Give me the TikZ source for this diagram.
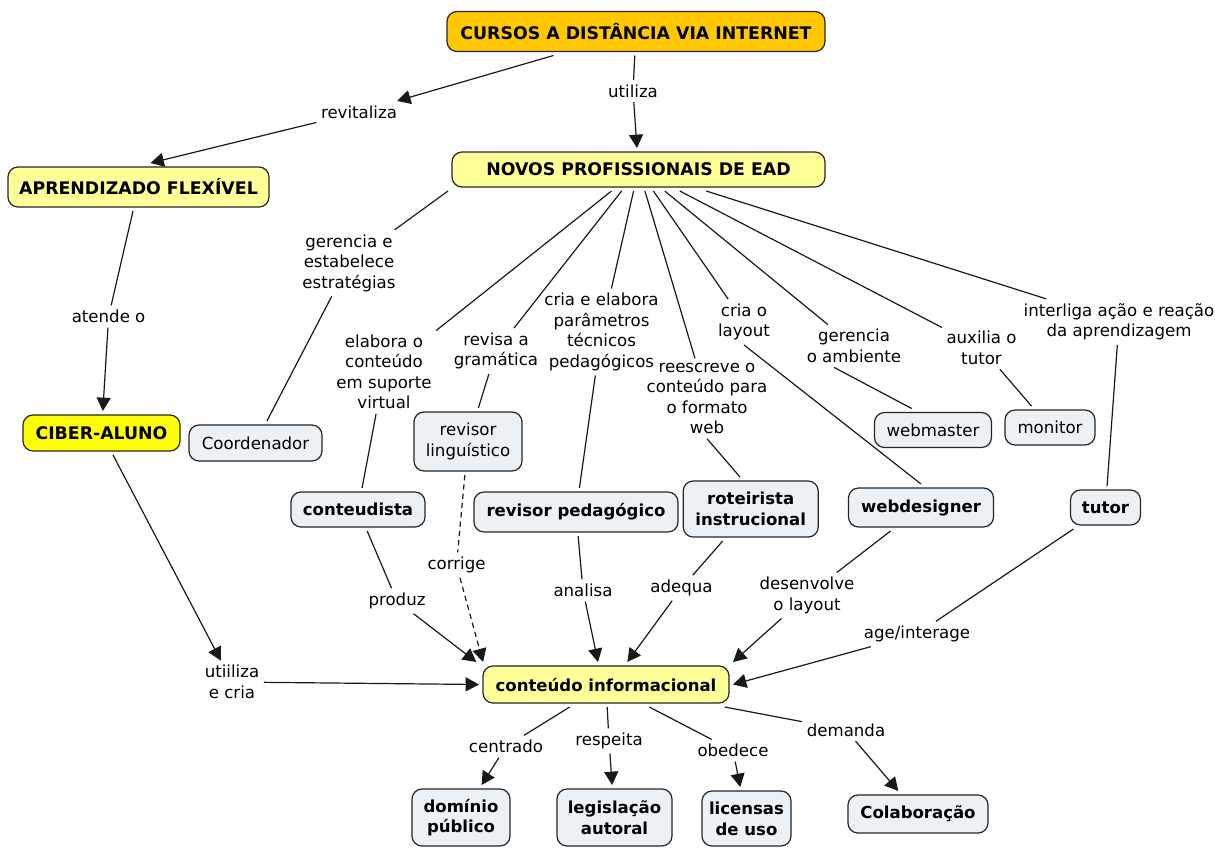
\documentclass[tikz,border=0pt]{standalone}
\usepackage{fontspec}
\setmainfont{DejaVu Sans}
\usetikzlibrary{arrows.meta,calc}
\definecolor{cgold}{HTML}{FFC800}
\definecolor{clyel}{HTML}{FFFF99}
\definecolor{cbyel}{HTML}{FFFF00}
\definecolor{cblue}{HTML}{EBF1F4}
\begin{document}
\begin{tikzpicture}[x=0.75pt,y=-0.75pt,
  base/.style={draw=black!85, line width=0.9pt, rounded corners=7.5pt, inner sep=0pt, outer sep=3pt, align=center, text=black},
  sz/.style 2 args={minimum width=#1*0.75pt, minimum height=#2*0.75pt},
  bigc/.style={base, font=\fontsize{13}{16.5}\selectfont\bfseries},
  bc/.style={base, fill=cblue, font=\fontsize{12.4}{15.6}\selectfont\bfseries},
  nc/.style={base, fill=cblue, font=\fontsize{12.45}{15.6}\selectfont},
  lab/.style={inner sep=2pt, outer sep=1.5pt, align=center, text=black, font=\fontsize{12.45}{15.4}\selectfont},
  conn/.style={line width=0.9pt, draw=black!90},
  arr/.style={conn, -{Triangle[length=10pt,width=10.5pt]}},
  dsh/.style={dash pattern=on 4pt off 3pt},
]
\useasboundingbox (0,0) rectangle (1215,847);
\fill[white] (0,0) rectangle (1215,847);

% concepts
\node[bigc, fill=cgold, sz={378}{40}] (cursos) at (636,31.5) {CURSOS A DISTÂNCIA VIA INTERNET};
\node[bigc, fill=clyel, sz={373}{35}] (novos) at (638.5,169.5) {NOVOS PROFISSIONAIS DE EAD};
\node[bigc, fill=clyel, sz={261}{40}] (aprend) at (138.5,187) {APRENDIZADO FLEXÍVEL};
\node[bigc, fill=cbyel, sz={157}{36}] (ciber) at (101.5,433) {CIBER-ALUNO};
\node[nc, sz={133}{36}] (coord) at (255.5,443) {Coordenador};
\node[nc, sz={108}{59}] (revling) at (468,441.5) {revisor\\linguístico};
\node[bc, sz={134}{35}] (contd) at (358,509.5) {conteudista};
\node[bc, sz={204}{40}] (revped) at (576,512) {revisor pedagógico};
\node[bc, sz={135}{56}] (rotei) at (750.7,509) {roteirista\\instrucional};
\node[bc, sz={145}{39}] (webdes) at (921,507.5) {webdesigner};
\node[nc, sz={117}{35}] (webmaster) at (933,430) {webmaster};
\node[nc, sz={90}{35}] (monitor) at (1050,427.5) {monitor};
\node[bc, sz={70}{35}] (tutor) at (1105.5,507.5) {tutor};
\node[bc, fill=clyel, sz={246}{37}] (conteudo) at (606,684.5) {conteúdo informacional};
\node[bc, sz={98}{57}] (dominio) at (461,817.5) {domínio\\público};
\node[bc, sz={115}{57}] (legis) at (614.5,817.5) {legislação\\autoral};
\node[bc, sz={89}{55}] (licen) at (746.5,818.5) {licensas\\de uso};
\node[bc, sz={140}{38}] (colab) at (918,814) {Colaboração};

% linking phrases
\node[lab] (revit) at (359,112) {revitaliza};
\node[lab] (utiliza) at (633,91) {utiliza};
\node[lab] (atende) at (108.6,316.5) {atende o};
\node[lab] (ger) at (349,263) {gerencia e\\estabelece\\estratégias};
\node[lab] (elab) at (384,372) {elabora o\\conteúdo\\em suporte\\virtual};
\node[lab] (revisa) at (496,351) {revisa a\\gramática};
\node[lab] (criaelab) at (601.5,332) {cria e elabora\\parâmetros\\técnicos\\pedagógicos};
\node[lab] (reesc) at (707,398.5) {reescreve o\\conteúdo para\\o formato\\web};
\node[lab] (criao) at (744,322) {cria o\\layout};
\node[lab] (gam) at (854,346) {gerencia\\o ambiente};
\node[lab] (aux) at (981.5,348) {auxilia o\\tutor};
\node[lab] (interl) at (1119,322) {interliga ação e reação\\da aprendizagem};
\node[lab] (corrige) at (456.5,565) {corrige};
\node[lab] (produz) at (397,601) {produz};
\node[lab] (analisa) at (583,590.5) {analisa};
\node[lab] (adequa) at (681.5,588) {adequa};
\node[lab] (desenv) at (807,595.5) {desenvolve\\o layout};
\node[lab] (age) at (917,634) {age/interage};
\node[lab] (utcria) at (232,682) {utiiliza\\e cria};
\node[lab] (centrado) at (506,746.5) {centrado};
\node[lab] (respeita) at (609,741) {respeita};
\node[lab] (obedece) at (733,750.5) {obedece};
\node[lab] (demanda) at (846,730) {demanda};

% connectors
\draw[arr] (cursos) -- (revit);
\draw[arr] (revit) -- ([xshift=9pt]aprend.north);
\draw[conn] (cursos) -- (utiliza);
\draw[arr] (utiliza) -- (novos);
\draw[conn] (aprend) -- (atende);
\draw[arr] (atende) -- (ciber);
\draw[arr] (ciber) -- (utcria);
\draw[arr] (utcria) -- (conteudo.west);

\draw[conn] (novos.south west) -- (ger);
\draw[conn] (ger) -- (coord);
\draw[conn] (novos) -- (elab);
\draw[conn] (elab) -- (contd);
\draw[conn] (novos) -- (revisa);
\draw[conn] (revisa) -- (revling);
\draw[conn] (novos) -- (criaelab);
\draw[conn] (criaelab) -- (revped);
\draw[conn] (novos) -- (reesc);
\draw[conn] (reesc.south) -- ([xshift=-8pt]rotei.north);
\draw[conn] (novos) -- (criao);
\draw[conn] (criao.south) -- (webdes.north);
\draw[conn] (novos) -- (gam);
\draw[conn] ([xshift=-15pt]gam.south) -- ([xshift=-16pt]webmaster.north);
\draw[conn] (novos) -- (aux);
\draw[conn] (aux) -- (monitor);
\draw[conn] (novos) -- (interl);
\draw[conn] (interl) -- (tutor);

\draw[conn] (contd) -- (produz);
\draw[arr] (produz) -- ([xshift=-2pt]conteudo.north west);
\draw[conn, dsh] (revling) -- (corrige);
\draw[arr, dsh] (corrige) -- ([xshift=3pt]conteudo.north west);
\draw[conn] (revped) -- (analisa);
\draw[arr] (analisa) -- ([xshift=-6pt]conteudo.north);
\draw[conn] (rotei) -- (adequa);
\draw[arr] (adequa) -- ([xshift=16pt]conteudo.north);
\draw[conn] (webdes) -- (desenv);
\draw[arr] (desenv) -- (conteudo.north east);
\draw[conn] (tutor) -- (age);
\draw[arr] (age) -- (conteudo.east);

\draw[conn] (conteudo) -- (centrado);
\draw[arr] (centrado) -- (dominio);
\draw[conn] (conteudo) -- (respeita);
\draw[arr] (respeita) -- (legis);
\draw[conn] (conteudo) -- (obedece);
\draw[arr] (obedece) -- (licen);
\draw[conn] (conteudo) -- (demanda);
\draw[arr] (demanda) -- (colab);
\end{tikzpicture}
\end{document}
